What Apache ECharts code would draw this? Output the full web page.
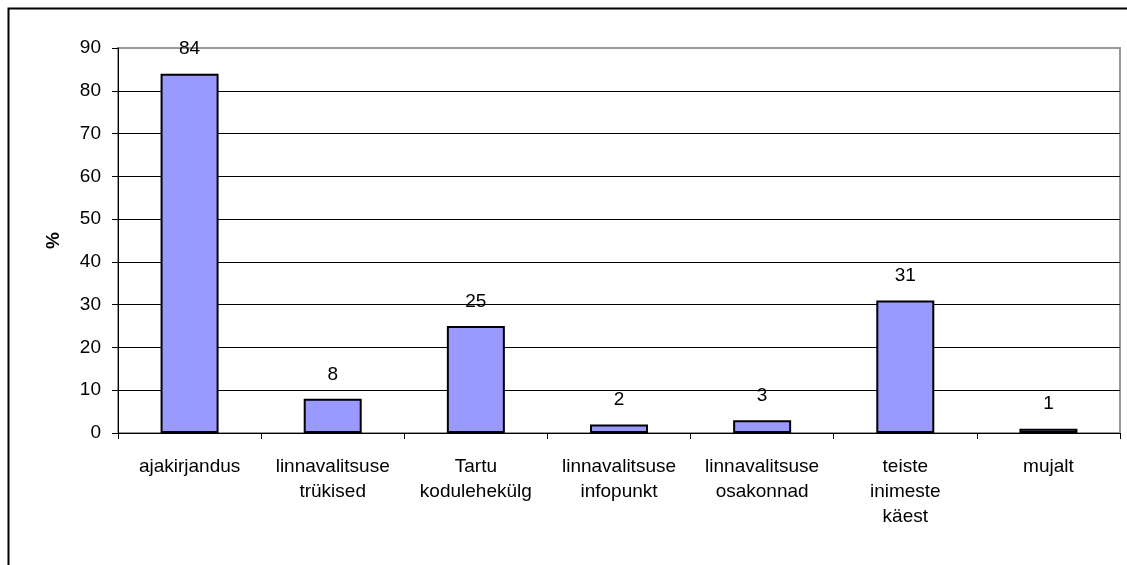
<!DOCTYPE html>
<html>
<head>
<meta charset="utf-8">
<script src="https://cdn.jsdelivr.net/npm/echarts@6/dist/echarts.min.js"></script>
<style>
html,body{margin:0;padding:0;background:#fff;}
#c{width:1127px;height:565px;}
</style>
</head>
<body>
<div id="c"></div>
<script>
const categories = ['ajakirjandus', 'linnavalitsuse\ntrükised', 'Tartu\nkodulehekülg', 'linnavalitsuse\ninfopunkt', 'linnavalitsuse\nosakonnad', 'teiste\ninimeste\nkäest', 'mujalt'];
const values = [84, 8, 25, 2, 3, 31, 1];
const yTicks = { min: 0, max: 90, interval: 10 };
const yName = '%';

const chart = echarts.init(document.getElementById('c'), null, { renderer: 'canvas' });
const font = 'Liberation Sans, Arial, sans-serif';
chart.setOption({
  animation: false,
  backgroundColor: '#fff',
  graphic: [{
    type: 'rect',
    shape: { x: 8.5, y: 8.5, width: 1140, height: 600 },
    style: { fill: null, stroke: '#000', lineWidth: 2 },
    silent: true
  }],
  grid: {
    left: 118, right: 7, top: 48, bottom: 132,
    show: true, borderColor: '#999', borderWidth: 2, backgroundColor: 'transparent'
  },
  xAxis: {
    type: 'category',
    data: categories,
    boundaryGap: true,
    axisLine: { lineStyle: { color: '#000', width: 1 } },
    axisTick: { show: true, alignWithLabel: false, length: 6, lineStyle: { color: '#000' } },
    axisLabel: { color: '#000', fontSize: 19, fontFamily: font, margin: 21, lineHeight: 25, interval: 0 }
  },
  yAxis: {
    type: 'value',
    min: yTicks.min, max: yTicks.max, interval: yTicks.interval,
    name: yName,
    nameLocation: 'middle',
    nameGap: 55,
    nameRotate: 90,
    nameTextStyle: { color: '#000', fontSize: 19, fontWeight: 'bold', fontFamily: font },
    axisLine: { show: true, lineStyle: { color: '#000', width: 1 } },
    axisTick: { show: true, length: 6, lineStyle: { color: '#000' } },
    axisLabel: { color: '#000', fontSize: 19, fontFamily: font, margin: 17 },
    splitLine: { show: true, showMaxLine: false, lineStyle: { color: '#000', width: 1 } }
  },
  series: [{
    type: 'bar',
    data: values,
    barWidth: 58,
    itemStyle: { color: '#9999ff', borderColor: '#000', borderWidth: 2 },
    label: { show: true, position: 'top', distance: 15, color: '#000', fontSize: 19, fontFamily: font }
  }]
});
</script>
</body>
</html>
